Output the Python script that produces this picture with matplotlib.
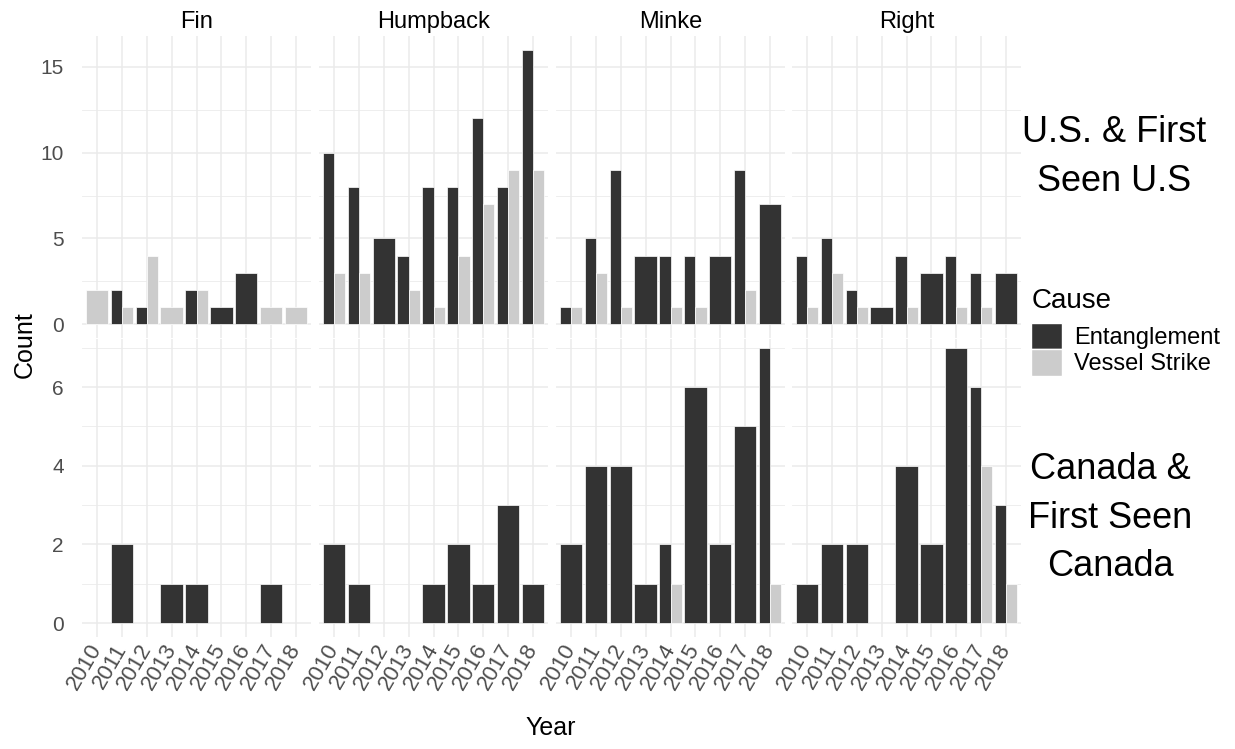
import numpy as np
import matplotlib
matplotlib.use("Agg")
from matplotlib import pyplot as plt
from matplotlib.patches import Patch

plt.rcParams['font.family'] = ['Liberation Sans', 'DejaVu Sans']

years = [2010, 2011, 2012, 2013, 2014, 2015, 2016, 2017, 2018]
species = ['Fin', 'Humpback', 'Minke', 'Right']
causes = ['Entanglement', 'Vessel Strike']
regions = ['U.S. & First\nSeen U.S', 'Canada &\nFirst Seen\nCanada']

# U.S. & first seen U.S.
fin_us_ent = [0, 2, 1, 0, 2, 1, 3, 0, 0]
fin_us_ves = [2, 1, 4, 1, 2, 0, 0, 1, 1]
hump_us_ent = [10, 8, 5, 4, 8, 8, 12, 8, 16]
hump_us_ves = [3, 3, 0, 2, 1, 4, 7, 9, 9]
minke_us_ent = [1, 5, 9, 4, 4, 4, 4, 9, 7]
minke_us_ves = [1, 3, 1, 0, 1, 1, 0, 2, 0]
right_us_ent = [4, 5, 2, 1, 4, 3, 4, 3, 3]
right_us_ves = [1, 3, 1, 0, 1, 0, 1, 1, 0]

# Canada & first seen Canada
fin_ca_ent = [0, 2, 0, 1, 1, 0, 0, 1, 0]
fin_ca_ves = [0, 0, 0, 0, 0, 0, 0, 0, 0]
hump_ca_ent = [2, 1, 0, 0, 1, 2, 1, 3, 1]
hump_ca_ves = [0, 0, 0, 0, 0, 0, 0, 0, 0]
minke_ca_ent = [2, 4, 4, 1, 2, 6, 2, 5, 7]
minke_ca_ves = [0, 0, 0, 0, 1, 0, 0, 0, 1]
right_ca_ent = [1, 2, 2, 0, 4, 2, 7, 6, 3]
right_ca_ves = [0, 0, 0, 0, 0, 0, 0, 4, 1]

rows = [
    [(fin_us_ent, fin_us_ves), (hump_us_ent, hump_us_ves),
     (minke_us_ent, minke_us_ves), (right_us_ent, right_us_ves)],
    [(fin_ca_ent, fin_ca_ves), (hump_ca_ent, hump_ca_ves),
     (minke_ca_ent, minke_ca_ves), (right_ca_ent, right_ca_ves)],
]

colors = ['#333333', '#cccccc']
grid_col = '#ebebeb'
tick_col = '#4d4d4d'

W, H = 1235, 749
fig = plt.figure(figsize=(W / 100, H / 100), dpi=100)

lefts = [82, 319, 556, 792]
pw = 229
row_tops = [36, 339]
row_h = [302, 298]
ylims = [(-0.8, 16.8), (-0.35, 7.22)]
major = [[0, 5, 10, 15], [0, 2, 4, 6]]
minor = [[2.5, 7.5, 12.5], [1, 3, 5, 7]]


def draw_panel(ax, ent, ves):
    ent = np.array(ent)
    ves = np.array(ves)
    x = np.array(years, dtype=float)
    both = (ent > 0) & (ves > 0)
    # dodge like ggplot: share the 0.9 slot only when both causes exist
    w = np.where(both, 0.45, 0.9)
    ax.bar(np.where(both, x - 0.225, x)[ent > 0], ent[ent > 0], width=w[ent > 0],
           color=colors[0], edgecolor='white', linewidth=0.5, zorder=3)
    ax.bar(np.where(both, x + 0.225, x)[ves > 0], ves[ves > 0], width=w[ves > 0],
           color=colors[1], edgecolor='white', linewidth=0.5, zorder=3)


for r in range(2):
    for c in range(4):
        ax = fig.add_axes([lefts[c] / W, 1 - (row_tops[r] + row_h[r]) / H, pw / W, row_h[r] / H])
        ent, ves = rows[r][c]
        draw_panel(ax, ent, ves)
        ax.set_xlim(years[0] - 0.6, years[-1] + 0.6)
        ax.set_ylim(*ylims[r])
        ax.set_xticks(years)
        ax.set_yticks(major[r])
        ax.set_yticks(minor[r], minor=True)
        ax.grid(True, which='major', color=grid_col, linewidth=1.1, zorder=0)
        ax.grid(True, which='minor', axis='y', color=grid_col, linewidth=0.6, zorder=0)
        ax.set_axisbelow(True)
        for s in ax.spines.values():
            s.set_visible(False)
        ax.tick_params(which='both', length=0, colors=tick_col, labelsize=15)
        ax.tick_params(axis='y', pad=13)
        if c > 0:
            ax.set_yticklabels([])
        if r == 0:
            ax.set_xticklabels([])
            ax.set_title(species[c], fontsize=17, pad=6)
        else:
            ax.set_xticklabels([str(y) for y in years], rotation=60, ha='right',
                               rotation_mode='anchor', va='center', fontsize=16)
            ax.tick_params(axis='x', pad=6)

fig.text(1114 / W, 1 - 157 / H, regions[0], fontsize=26, ha='center', va='center', linespacing=1.5)
fig.text(1110 / W, 1 - 518 / H, regions[1], fontsize=26, ha='center', va='center', linespacing=1.5)

fig.text(25 / W, 1 - 345 / H, 'Count', fontsize=18, rotation=90, ha='center', va='center')
fig.text(551 / W, 1 - 728 / H, 'Year', fontsize=18, ha='center', va='center')

handles = [Patch(facecolor=colors[i], edgecolor='white', label=causes[i]) for i in range(2)]
leg = fig.legend(handles=handles, title='Cause', loc='upper left',
                 bbox_to_anchor=(1022 / W, 1 - 279 / H), frameon=False,
                 fontsize=17, title_fontsize=20, handlelength=1.3, handleheight=1.35,
                 labelspacing=0.0, handletextpad=0.5, borderaxespad=0)
leg._legend_box.align = 'left'
leg._legend_box.sep = 6

fig.savefig('out.png', dpi=100)
